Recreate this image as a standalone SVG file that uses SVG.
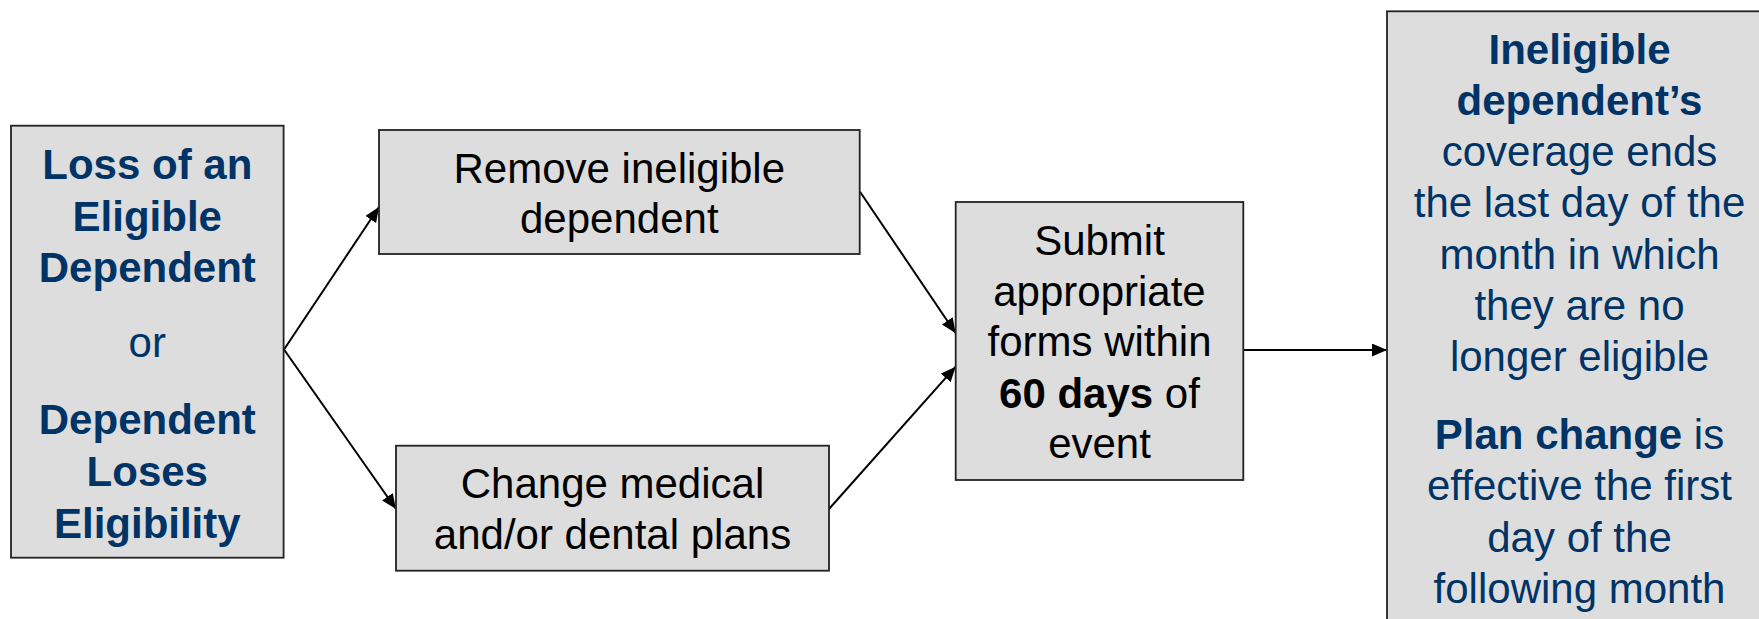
<svg xmlns="http://www.w3.org/2000/svg" width="1759" height="619" viewBox="0 0 1759 619">
<style>
.box{fill:#DDDDDD;stroke:#222222;stroke-width:1.8}
text{font-family:"Liberation Sans",Arial,sans-serif;font-size:42px;text-anchor:middle}
.navy{fill:#003366}
.blk{fill:#000000}
.b{font-weight:bold}
.conn{stroke:#000000;stroke-width:2;fill:none;marker-end:url(#arr)}
</style>
<defs>
<marker id="arr" markerUnits="userSpaceOnUse" markerWidth="16" markerHeight="14" refX="15" refY="6.5" orient="auto">
<path d="M0,0 L15,6.5 L0,13 Z" fill="#000000"/>
</marker>
</defs>
<rect width="1759" height="619" fill="#FFFFFF"/>
<g id="connectors">
<line class="conn" x1="284" y1="349.5" x2="379" y2="207"/>
<line class="conn" x1="284" y1="349.5" x2="396" y2="509"/>
<line class="conn" x1="860" y1="191.7" x2="955.7" y2="333.3"/>
<line class="conn" x1="829" y1="509" x2="955.7" y2="366.7"/>
<line class="conn" x1="1243.3" y1="350" x2="1387" y2="350"/>
</g>
<g id="node-loss">
<rect class="box" x="11" y="125.7" width="272.6" height="432"/>
<text class="navy b" x="147.3" y="179.3">Loss of an</text>
<text class="navy b" x="147.3" y="230.5">Eligible</text>
<text class="navy b" x="147.3" y="281.5">Dependent</text>
<text class="navy" x="147.3" y="357">or</text>
<text class="navy b" x="147.3" y="434.3">Dependent</text>
<text class="navy b" x="147.3" y="486">Loses</text>
<text class="navy b" x="147.3" y="537.5">Eligibility</text>
</g>
<g id="node-remove">
<rect class="box" x="379" y="130" width="480.7" height="124"/>
<text class="blk" x="619.3" y="182.7">Remove ineligible</text>
<text class="blk" x="619.3" y="233.3">dependent</text>
</g>
<g id="node-change">
<rect class="box" x="396" y="445.7" width="433" height="125"/>
<text class="blk" x="612.5" y="498.3">Change medical</text>
<text class="blk" x="612.5" y="549">and/or dental plans</text>
</g>
<g id="node-submit">
<rect class="box" x="955.7" y="202" width="287.6" height="278"/>
<text class="blk" x="1099.5" y="255">Submit</text>
<text class="blk" x="1099.5" y="305.7">appropriate</text>
<text class="blk" x="1099.5" y="356.4">forms within</text>
<text class="blk" x="1099.5" y="407.5"><tspan class="b">60 days</tspan> of</text>
<text class="blk" x="1099.5" y="458">event</text>
</g>
<g id="node-result">
<rect class="box" x="1387" y="11.3" width="385" height="620"/>
<text class="navy b" x="1579.5" y="63.5">Ineligible</text>
<text class="navy b" x="1579.5" y="114.8">dependent’s</text>
<text class="navy" x="1579.5" y="166">coverage ends</text>
<text class="navy" x="1579.5" y="217.4">the last day of the</text>
<text class="navy" x="1579.5" y="268.7">month in which</text>
<text class="navy" x="1579.5" y="320">they are no</text>
<text class="navy" x="1579.5" y="371.3">longer eligible</text>
<text class="navy" x="1579.5" y="449"><tspan class="b">Plan change</tspan> is</text>
<text class="navy" x="1579.5" y="500.3">effective the first</text>
<text class="navy" x="1579.5" y="551.6">day of the</text>
<text class="navy" x="1579.5" y="603">following month</text>
</g>
</svg>
